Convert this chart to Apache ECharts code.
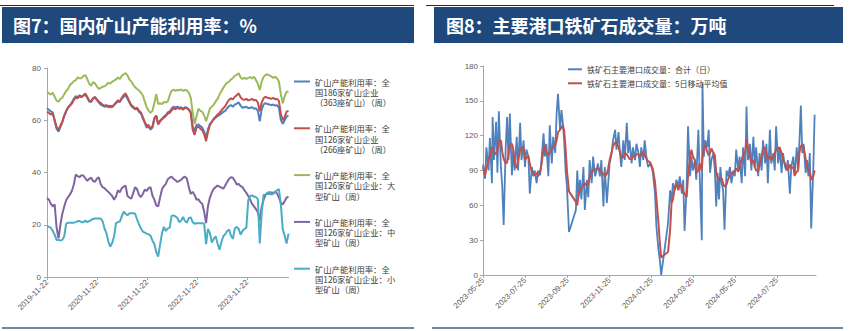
<!DOCTYPE html>
<html>
<head>
<meta charset="utf-8">
<script src="https://cdn.jsdelivr.net/npm/echarts@6/dist/echarts.min.js"></script>
<style>
  html, body { margin: 0; padding: 0; background: #ffffff; }
  #chart { width: 852px; height: 331px; }
</style>
</head>
<body>
<div id="chart"></div>
<script>
// ---- Figure 7: domestic mine capacity utilisation (%), sampled every two weeks ----
const mineStart = '2019-11-22';
const mineStepDays = 14;
const mineTickLabels = ['2019-11-22', '2020-11-22', '2021-11-22', '2022-11-22', '2023-11-22'];
const mineSeriesNames = [
  '矿山产能利用率：全国186家矿山企业（363座矿山）（周）',
  '矿山产能利用率：全国126家矿山企业（266座矿山）（周）',
  '矿山产能利用率：全国126家矿山企业：大型矿山（周）',
  '矿山产能利用率：全国126家矿山企业：中型矿山（周）',
  '矿山产能利用率：全国126家矿山企业：小型矿山（周）'
];
const util186 = [
  64.6,64.0,63.4,63.0,59.6,56.8,55.6,57.4,59.2,61.6,
  63.4,64.8,65.8,66.8,68.2,69.2,68.8,69.6,69.0,69.4,
  69.8,68.6,67.2,67.0,68.4,68.6,67.8,66.8,66.0,65.6,
  65.2,65.4,65.0,65.2,65.0,65.8,66.6,67.2,67.0,68.2,
  69.0,69.6,68.2,66.8,65.4,64.8,64.2,64.4,63.2,62.6,
  60.8,59.0,57.2,57.6,56.4,57.2,60.4,61.6,58.6,59.8,
  60.6,61.4,62.0,63.0,63.4,64.4,65.2,64.8,65.2,64.8,
  65.0,64.4,65.0,64.8,64.2,63.2,57.6,56.0,58.2,58.4,
  57.8,57.2,55.6,53.4,56.6,58.6,59.4,60.4,61.0,61.6,
  62.0,62.6,63.2,63.6,64.6,65.4,65.8,65.2,66.0,66.4,
  66.8,65.6,64.8,65.0,65.2,64.6,64.8,65.0,64.4,64.6,
  63.6,59.6,64.2,66.0,66.6,66.2,66.0,65.8,66.0,65.6,
  65.8,64.8,60.2,58.6,60.0,61.4,61.8
];
const util126 = [
  63.3,62.8,62.2,62.6,60.2,57.4,56.3,58.0,59.6,61.8,
  63.6,65.0,65.6,66.4,67.8,68.6,68.4,69.2,68.8,69.6,
  70.2,69.0,67.6,67.2,68.2,69.0,68.0,67.2,66.6,66.0,
  65.6,65.8,65.4,65.6,65.2,66.0,66.8,67.6,67.2,68.6,
  69.6,70.3,68.8,67.2,65.8,65.2,64.4,64.8,63.6,63.0,
  61.2,59.4,57.8,58.2,56.8,57.6,60.8,61.8,58.4,59.6,
  60.4,61.0,61.6,62.6,62.8,63.8,64.6,64.2,64.8,64.4,
  64.6,64.0,64.8,64.6,64.0,62.8,56.4,54.4,57.2,57.6,
  56.8,56.2,54.6,52.0,55.6,58.2,59.4,60.6,61.4,62.2,
  62.8,63.8,64.6,65.4,66.8,67.8,68.4,68.0,69.0,69.6,
  70.3,68.8,68.0,67.8,68.2,67.6,67.8,68.2,67.6,67.8,
  66.8,63.4,66.8,68.4,69.0,68.6,68.4,68.2,68.6,68.0,
  68.2,67.4,62.4,60.0,61.2,63.3,63.6
];
const utilLarge = [
  70.9,70.3,69.8,70.6,69.0,67.5,67.1,68.2,68.6,70.0,
  71.2,72.0,73.5,74.2,75.0,75.3,76.4,76.0,76.2,76.9,
  77.3,75.8,74.0,73.2,74.6,74.1,73.0,72.0,72.4,72.8,
  73.0,73.6,74.4,74.0,74.8,75.2,75.6,76.4,75.8,77.0,
  77.6,78.0,77.2,75.6,74.8,73.6,72.6,72.0,71.4,70.6,
  69.5,67.2,65.0,63.7,62.8,63.6,66.5,70.0,66.2,66.5,
  66.2,67.0,66.8,67.2,69.5,71.2,71.8,71.2,71.6,71.4,
  71.8,71.2,71.6,71.4,70.6,68.6,63.0,58.6,61.5,64.4,
  63.6,63.2,61.8,59.6,62.0,64.6,65.2,66.0,67.2,68.2,
  69.8,71.2,72.4,73.6,74.4,74.8,75.6,76.2,77.0,77.4,
  78.0,76.4,75.8,76.2,75.8,76.2,76.5,76.0,76.7,75.4,
  74.0,71.6,74.8,76.6,77.3,77.6,77.2,76.8,76.2,76.6,
  76.1,74.8,70.0,66.5,69.2,70.9,71.0
];
const utilMedium = [
  30.2,29.6,28.0,27.0,27.8,19.0,14.8,20.0,24.2,27.0,
  29.4,30.6,31.6,33.0,35.4,39.2,38.6,38.2,39.0,38.8,
  37.8,36.8,37.6,38.0,36.8,36.4,37.6,38.2,35.6,34.4,
  34.0,33.2,32.6,31.8,31.0,29.6,30.8,33.2,32.4,34.0,
  34.6,35.0,31.0,30.4,30.0,32.2,34.4,33.6,31.4,30.6,
  31.8,33.4,33.0,34.0,34.4,31.2,29.6,27.4,27.0,30.4,
  33.6,34.8,35.6,37.4,38.0,38.4,37.6,37.0,36.4,36.8,
  37.2,38.0,38.4,37.6,34.4,31.8,32.6,31.4,29.6,29.8,
  28.6,28.0,25.0,20.6,27.2,30.4,32.4,33.8,34.4,35.0,
  34.6,34.2,33.8,35.0,36.4,37.6,38.2,38.0,36.8,35.4,
  35.6,34.8,34.4,33.2,32.2,31.0,29.6,28.0,27.0,26.0,
  24.8,21.6,26.8,29.6,31.4,32.0,31.8,32.4,32.2,32.6,
  32.0,30.4,28.4,27.8,29.0,30.4,30.8
];
const utilSmall = [
  19.3,19.2,18.9,17.6,16.2,14.2,14.2,14.0,14.2,15.6,
  20.4,20.8,20.8,20.8,20.8,21.0,21.4,21.4,21.0,21.0,
  21.6,21.0,21.4,21.8,22.2,22.4,22.4,22.4,22.4,21.4,
  18.6,16.8,13.6,11.6,13.0,15.6,20.6,21.0,21.2,23.2,
  25.0,24.2,23.6,24.4,24.4,24.4,24.2,22.0,20.2,18.6,
  17.4,17.0,16.6,16.4,15.8,14.0,12.6,9.6,7.8,12.4,
  16.8,19.2,17.6,18.6,18.8,23.4,23.6,23.2,22.6,21.0,
  21.6,23.0,21.4,20.8,22.6,22.8,21.0,20.4,20.6,20.6,
  20.6,20.6,20.4,12.6,18.4,16.8,13.2,14.6,15.6,12.8,
  10.4,13.4,15.6,16.4,17.6,18.2,15.8,14.6,18.6,19.2,
  18.4,16.2,17.6,18.4,18.8,29.4,31.0,31.2,30.8,30.6,
  29.8,12.8,24.6,31.4,31.6,32.2,32.6,31.6,31.8,32.6,
  33.2,33.6,27.8,18.4,15.8,12.8,16.6
];

// ---- Figure 8: iron ore trading volume at major ports (10k tonnes) ----
const portStart = '2023-05-25';
const portSpanDays = 484;
const portTickLabels = ['2023-05-25', '2023-07-25', '2023-09-25', '2023-11-25',
                        '2024-01-25', '2024-03-25', '2024-05-25', '2024-07-25'];
const portSeriesNames = ['铁矿石主要港口成交量：合计（日）', '铁矿石主要港口成交量：5日移动平均值'];
// trading days, counted in days after portStart
const portDayOffsets = [
  0,3,5,8,10,13,14,16,19,21,
  23,26,28,30,33,35,37,39,42,44,
  46,49,51,54,56,59,61,63,66,68,
  71,73,75,78,80,83,85,88,90,92,
  95,97,100,102,105,107,109,112,114,116,
  118,120,122,125,135,137,139,141,143,146,
  148,151,153,155,158,160,163,165,167,170,
  172,175,177,180,182,184,187,189,192,194,
  197,199,201,204,206,209,211,213,216,218,
  221,223,226,228,230,233,235,238,240,243,
  245,247,250,252,255,257,259,269,272,274,
  276,279,281,284,286,289,291,293,296,298,
  301,303,305,308,310,313,315,318,319,321,
  323,326,328,330,332,335,337,339,341,343,
  345,347,349,351,354,356,359,361,364,366,
  368,371,373,376,378,381,383,385,388,390,
  393,395,397,400,402,405,407,410,412,414,
  417,419,422,424,426,429,431,434,436,439,
  441,443,446,448,451,453,456,458,460,462,
  464,466,469,471,473,475,477,480,482
];
const portDaily = [
  95,83,110,90,118,79,136,99,132,88,
  141,93,76,43,110,136,99,139,86,108,
  90,119,90,131,99,116,93,108,102,70,
  93,85,90,79,90,86,99,122,102,113,
  85,129,96,119,105,139,156,125,142,131,
  116,90,76,37,56,90,67,82,65,93,
  56,82,67,99,79,102,85,90,96,85,
  99,59,93,62,79,96,105,116,125,108,
  123,105,93,116,99,131,105,116,96,110,
  99,113,105,93,110,99,116,99,93,96,
  93,88,70,42,22,13,0,45,73,62,
  79,73,82,76,85,70,82,38,76,128,
  85,102,90,99,82,125,85,30,165,102,
  116,110,125,88,99,105,90,59,88,65,
  93,79,73,39,90,85,93,79,90,85,
  108,90,102,79,110,85,145,99,113,90,
  119,93,110,85,105,90,116,96,113,79,
  125,96,105,90,128,96,110,88,105,93,
  90,99,70,93,102,85,110,90,116,146,
  105,113,88,99,85,105,40,90,138
];
const portMA5 = [
  93,86,92,99,102,110,108,106,104,108,
  115,116,106,100,96,97,104,112,113,108,
  96,92,99,108,110,109,99,101,102,96,
  89,88,86,88,85,89,95,108,112,106,
  103,105,108,110,112,116,123,125,127,129,
  124,109,90,72,63,60,70,74,75,77,
  79,77,78,84,88,90,91,91,91,91,
  89,87,85,87,92,99,106,111,114,114,
  110,106,102,101,105,104,102,100,100,102,
  102,104,104,102,104,106,103,100,98,97,
  94,91,80,66,45,28,15,20,39,62,
  65,76,78,73,78,76,72,70,67,85,
  102,108,102,99,88,90,96,90,100,110,
  112,106,103,105,109,105,103,88,84,82,
  83,83,79,76,78,82,86,88,88,89,
  92,89,93,99,103,106,116,110,102,96,
  99,93,90,89,96,102,108,110,105,99,
  102,99,102,105,108,109,110,105,99,96,
  93,90,95,92,93,86,89,90,106,111,
  112,110,100,94,90,89,82,85,90
];

// ---- helpers ----
function dayTime(dateStr, plusDays) {
  const [y, m, d] = dateStr.split('-').map(Number);
  return new Date(y, m - 1, d + (plusDays || 0)).getTime();
}
function fmtDate(t) {
  const d = new Date(t);
  return d.getFullYear() + '-' + String(d.getMonth() + 1).padStart(2, '0') + '-' +
         String(d.getDate()).padStart(2, '0');
}

const mineTimes = util186.map((_, i) => dayTime(mineStart, i * mineStepDays));
const portTimes = portDayOffsets.map(off => dayTime(portStart, off));
const pairUp = (times, values) => values.map((v, i) => [times[i], v]);

const palette = ['#4F81BD', '#C0504D', '#9BBB59', '#8064A2', '#4BACC6'];
const axisGrey = '#A6A6A6';
const labelGrey = '#595959';
const latinFont = '"Liberation Sans", "Noto Sans CJK SC", sans-serif';
const cjkFont = '"Noto Sans CJK SC", "Liberation Sans", sans-serif';

// date axis: a value axis over timestamps, ticked only at the listed dates
function dateAxis(gridIndex, minT, maxT, tickLabels) {
  const ticks = tickLabels.map(s => dayTime(s));
  return {
    type: 'value', gridIndex: gridIndex, min: minT, max: maxT, scale: true,
    axisLine: { show: true, onZero: false, lineStyle: { color: axisGrey, width: 1 } },
    axisTick: { show: true, length: 3, customValues: ticks, lineStyle: { color: axisGrey } },
    axisLabel: {
      customValues: ticks, formatter: fmtDate, rotate: 45, margin: 4,
      fontSize: 7.8, color: labelGrey, fontFamily: latinFont, hideOverlap: false
    },
    splitLine: { show: false }
  };
}
function valueAxis(gridIndex, max, interval, margin) {
  return {
    type: 'value', gridIndex: gridIndex, min: 0, max: max, interval: interval,
    axisLine: { show: true, lineStyle: { color: axisGrey, width: 1 } },
    axisTick: { show: true, length: 3, lineStyle: { color: axisGrey } },
    axisLabel: { fontSize: 8, color: labelGrey, margin: margin, fontFamily: latinFont },
    splitLine: { show: false }
  };
}
function lineSeries(name, data, color, axisIndex, width) {
  return {
    type: 'line', name: name, data: data, xAxisIndex: axisIndex, yAxisIndex: axisIndex,
    symbol: 'none', showSymbol: false, smooth: false,
    lineStyle: { color: color, width: width }, itemStyle: { color: color },
    emphasis: { disabled: true }
  };
}

const mineValues = [util186, util126, utilLarge, utilMedium, utilSmall];
const series = mineValues.map((vals, k) =>
  lineSeries(mineSeriesNames[k], pairUp(mineTimes, vals), palette[k], 0, 2));
series.push(lineSeries(portSeriesNames[0], pairUp(portTimes, portDaily), palette[0], 1, 1.8));
series.push(lineSeries(portSeriesNames[1], pairUp(portTimes, portMA5), palette[1], 1, 2));

// wrap a mine legend name into three lines; two blank lines on top keep the
// legend line beside the first text line
const wrapMineName = name =>
  '\n\n' + name.replace(/^(.{9})(国\d+家矿山企业(?:：.)?)(.*)$/, '$1\n$2\n$3');

const headerBlue = '#1F497D';
const chart = echarts.init(document.getElementById('chart'), null, { renderer: 'svg' });
chart.setOption({
  animation: false,
  backgroundColor: '#ffffff',
  grid: [
    { left: 47, top: 68, width: 241.5, height: 209 },
    { left: 483, top: 66, width: 333, height: 209 }
  ],
  xAxis: [
    dateAxis(0, mineTimes[0], mineTimes[mineTimes.length - 1], mineTickLabels),
    dateAxis(1, dayTime(portStart), dayTime(portStart, portSpanDays), portTickLabels)
  ],
  yAxis: [valueAxis(0, 80, 20, 6), valueAxis(1, 180, 30, 5)],
  legend: [
    {
      data: mineSeriesNames, orient: 'vertical', left: 293, top: 55.75, padding: 0,
      itemWidth: 16, itemHeight: 8, itemGap: -4.7, selectedMode: false,
      itemStyle: { opacity: 0 },
      formatter: wrapMineName,
      textStyle: { fontSize: 8.3, lineHeight: 10.3, color: '#404040', fontFamily: cjkFont }
    },
    {
      data: portSeriesNames, orient: 'vertical', left: 567, top: 64.3, padding: 0,
      itemWidth: 14, itemHeight: 8, itemGap: 4, selectedMode: false,
      itemStyle: { opacity: 0 },
      textStyle: { fontSize: 8, lineHeight: 10, color: '#404040', fontFamily: cjkFont }
    }
  ],
  graphic: [
    { type: 'line', shape: { x1: 0, y1: 5.5, x2: 414, y2: 5.5 }, style: { stroke: '#2A2A2A', lineWidth: 1 } },
    { type: 'line', shape: { x1: 426, y1: 5.5, x2: 834, y2: 5.5 }, style: { stroke: '#2A2A2A', lineWidth: 1 } },
    { type: 'rect', shape: { x: 2, y: 7, width: 412, height: 36 }, style: { fill: headerBlue } },
    { type: 'rect', shape: { x: 434, y: 7, width: 409, height: 36 }, style: { fill: headerBlue } },
    {
      type: 'text', x: 13, y: 25,
      style: { text: '图7：国内矿山产能利用率：%', fill: '#ffffff', fontSize: 18, fontWeight: 'bold',
               fontFamily: cjkFont, verticalAlign: 'middle' }
    },
    {
      type: 'text', x: 446, y: 25,
      style: { text: '图8：主要港口铁矿石成交量：万吨', fill: '#ffffff', fontSize: 18, fontWeight: 'bold',
               fontFamily: cjkFont, verticalAlign: 'middle' }
    },
    { type: 'line', shape: { x1: 2, y1: 328, x2: 414, y2: 328 }, style: { stroke: '#3D5F8C', lineWidth: 1.5 } },
    { type: 'line', shape: { x1: 432, y1: 328, x2: 843, y2: 328 }, style: { stroke: '#3D5F8C', lineWidth: 1.5 } }
  ],
  series: series
});
</script>
</body>
</html>
